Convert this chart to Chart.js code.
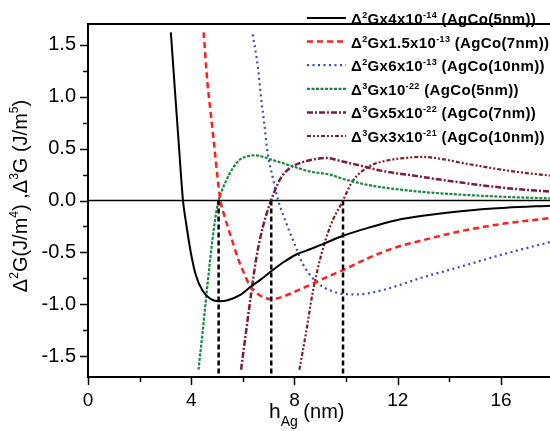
<!DOCTYPE html>
<html>
<head>
<meta charset="utf-8">
<script src="https://cdn.jsdelivr.net/npm/chart.js@4.4.1/dist/chart.umd.min.js"></script>
<style>
  html, body { margin: 0; padding: 0; background: #fff; }
  canvas { display: block; }
</style>
</head>
<body>
<canvas id="gibbsChart" width="550" height="431"></canvas>
<script>
// h_Ag thickness (nm) and scaled second derivative, AgCo(5nm)
const h2g5 = [3.21, 3.38, 3.53, 3.68, 3.79, 3.99, 4.18, 4.44, 4.76, 5.09, 5.41, 5.9, 6.25, 6.7, 7.16, 7.6, 8.07, 8.6, 9.1, 9.88, 10.9, 11.95, 13.2, 14.54, 16.2, 17.9];
const d2g5 = [1.62, 1.02, 0.50, 0.0, -0.20, -0.51, -0.72, -0.87, -0.95, -0.97, -0.96, -0.91, -0.84, -0.76, -0.67, -0.59, -0.52, -0.47, -0.42, -0.34, -0.26, -0.19, -0.14, -0.10, -0.07, -0.05];

// AgCo(7nm)
const h2g7 = [4.48, 4.63, 4.76, 4.89, 5.02, 5.13, 5.3, 5.54, 5.8, 6.06, 6.25, 6.64, 7.09, 7.5, 7.81, 8.45, 9.23, 9.88, 10.9, 11.95, 12.85, 14.54, 16.2, 17.9];
const d2g7 = [1.62, 1.13, 0.83, 0.53, 0.22, 0.0, -0.16, -0.35, -0.55, -0.71, -0.81, -0.91, -0.95, -0.93, -0.90, -0.83, -0.74, -0.67, -0.55, -0.45, -0.39, -0.29, -0.22, -0.17];

// AgCo(10nm)
const h2g10 = [6.38, 6.58, 6.71, 6.83, 6.96, 7.16, 7.37, 7.55, 7.81, 8.07, 8.32, 8.58, 8.97, 9.42, 9.88, 10.4, 11.3, 12.0, 12.85, 14.54, 16.2, 17.9];
const d2g10 = [1.60, 1.29, 0.98, 0.74, 0.46, 0.22, 0.0, -0.13, -0.30, -0.46, -0.61, -0.71, -0.81, -0.87, -0.90, -0.905, -0.87, -0.82, -0.75, -0.63, -0.51, -0.40];

// scaled third derivative
const h3g5 = [4.28, 4.44, 4.63, 4.83, 5.02, 5.15, 5.35, 5.61, 5.86, 6.25, 6.51, 7.03, 7.8, 8.58, 9.36, 10.0, 10.65, 11.3, 11.95, 12.85, 14.54, 16.2, 17.9];
const d3g5 = [-1.63, -1.27, -0.81, -0.36, -0.04, 0.07, 0.19, 0.31, 0.39, 0.43, 0.435, 0.40, 0.34, 0.28, 0.25, 0.20, 0.16, 0.13, 0.11, 0.085, 0.055, 0.035, 0.02];

const h3g7 = [5.93, 6.12, 6.32, 6.51, 6.77, 7.09, 7.22, 7.48, 7.81, 8.32, 8.84, 9.2, 9.8, 10.65, 11.3, 12.6, 14.54, 16.2, 17.9];
const d3g7 = [-1.63, -1.27, -0.90, -0.57, -0.26, 0.0, 0.085, 0.22, 0.31, 0.37, 0.40, 0.41, 0.38, 0.33, 0.29, 0.24, 0.17, 0.12, 0.085];

const h3g10 = [8.19, 8.45, 8.71, 9.04, 9.4, 9.88, 10.26, 10.91, 11.69, 12.3, 12.97, 13.7, 14.54, 16.48, 17.9];
const d3g10 = [-1.63, -1.27, -0.88, -0.52, -0.24, 0.0, 0.19, 0.33, 0.39, 0.41, 0.42, 0.40, 0.36, 0.28, 0.24];

// where the third derivative crosses zero
const markerH = [5.06, 7.1, 9.88];

// legend text, odd entries are superscripts
const legendLabels = [
  ["Δ", "2", "Gx4x10", "-14", " (AgCo(5nm))"],
  ["Δ", "2", "Gx1.5x10", "-13", " (AgCo(7nm))"],
  ["Δ", "2", "Gx6x10", "-13", " (AgCo(10nm))"],
  ["Δ", "3", "Gx10", "-22", " (AgCo(5nm))"],
  ["Δ", "3", "Gx5x10", "-22", " (AgCo(7nm))"],
  ["Δ", "3", "Gx3x10", "-21", " (AgCo(10nm))"]
];
const yTitle = ["Δ", "2", "G(J/m", "4", ") ,Δ", "3", "G (J/m", "5", ")"];

const xMin = 0, xMax = 17.9, yMin = -1.7, yMax = 1.7;

function pts(xs, ys) {
  return xs.map((x, i) => ({ x: x, y: ys[i] }));
}

function curve(label, xs, ys, color, width, dash) {
  return {
    label: label,
    data: pts(xs, ys),
    borderColor: color,
    borderWidth: width,
    borderDash: dash,
    showLine: true,
    pointRadius: 0,
    cubicInterpolationMode: 'monotone',
    fill: false
  };
}

const datasets = [
  curve('d2G 5nm', h2g5, d2g5, '#000000', 2, []),
  curve('d2G 7nm', h2g7, d2g7, '#ff1e1e', 2.5, [6, 4]),
  curve('d2G 10nm', h2g10, d2g10, '#3050b8', 2.2, [2, 3.5]),
  curve('d3G 5nm', h3g5, d3g5, '#17893a', 2.2, [3, 1.5]),
  curve('d3G 7nm', h3g7, d3g7, '#7b1b3e', 2.5, [6, 2, 2, 2]),
  curve('d3G 10nm', h3g10, d3g10, '#7c1f22', 2.2, [4, 2, 2, 2, 2, 2])
];

// zero line under everything
datasets.push({
  label: 'zero',
  data: [{ x: xMin, y: 0 }, { x: xMax, y: 0 }],
  borderColor: '#000', borderWidth: 1.5, showLine: true, pointRadius: 0, order: 1
});

// dashed drop lines on top
markerH.forEach(h => {
  datasets.push({
    label: 'mark',
    data: [{ x: h, y: 0 }, { x: h, y: yMin }],
    borderColor: '#000', borderWidth: 2.5, borderDash: [5, 3],
    showLine: true, pointRadius: 0, order: -1
  });
});

// draws text pieces, odd pieces raised (sup) or lowered (sub)
function richText(ctx, parts, x, y, size, weight, small, shift) {
  let cx = x;
  parts.forEach((p, i) => {
    const isSmall = i % 2 === 1;
    ctx.font = weight + ' ' + (isSmall ? small : size) + "px 'Liberation Sans', Arial, sans-serif";
    ctx.fillText(p, cx, isSmall ? y + shift : y);
    cx += ctx.measureText(p).width;
  });
  return cx - x;
}

function richWidth(ctx, parts, size, weight, small) {
  let w = 0;
  parts.forEach((p, i) => {
    ctx.font = weight + ' ' + (i % 2 === 1 ? small : size) + "px 'Liberation Sans', Arial, sans-serif";
    w += ctx.measureText(p).width;
  });
  return w;
}

const decorPlugin = {
  id: 'decor',
  afterDraw(chart) {
    const ctx = chart.ctx;
    const area = chart.chartArea;
    const xs = chart.scales.x, ys = chart.scales.y;
    ctx.save();
    ctx.strokeStyle = '#000';
    ctx.fillStyle = '#000';

    // top frame line
    ctx.lineWidth = 2;
    ctx.beginPath();
    ctx.moveTo(area.left - 1, area.top);
    ctx.lineTo(area.right, area.top);
    ctx.stroke();

    // outward ticks, longer on labelled values
    ctx.lineWidth = 1.5;
    xs.ticks.forEach(t => {
      const px = Math.round(xs.getPixelForValue(t.value)) + 0.5;
      const len = t.value % 4 === 0 ? 8 : 5;
      ctx.beginPath();
      ctx.moveTo(px, area.bottom);
      ctx.lineTo(px, area.bottom + len);
      ctx.stroke();
    });
    ys.ticks.forEach(t => {
      const py = Math.round(ys.getPixelForValue(t.value)) + 0.5;
      const major = Math.abs(t.value * 2 - Math.round(t.value * 2)) < 1e-6;
      ctx.beginPath();
      ctx.moveTo(area.left, py);
      ctx.lineTo(area.left - (major ? 8 : 5), py);
      ctx.stroke();
    });

    // axis titles
    ctx.textBaseline = 'alphabetic';
    ctx.textAlign = 'left';
    let cx = 269;
    ctx.font = "21px 'Liberation Sans', Arial, sans-serif";
    ctx.fillText('h', cx, 418);
    cx += ctx.measureText('h').width;
    ctx.font = "14px 'Liberation Sans', Arial, sans-serif";
    ctx.fillText('Ag', cx, 426);
    cx += ctx.measureText('Ag').width;
    ctx.font = "20px 'Liberation Sans', Arial, sans-serif";
    ctx.fillText(' (nm)', cx, 418);

    ctx.save();
    ctx.translate(27, 196);
    ctx.rotate(-Math.PI / 2);
    const tw = richWidth(ctx, yTitle, 20, 'normal', 12);
    richText(ctx, yTitle, -tw / 2, 0, 20, 'normal', 12, -9);
    ctx.restore();

    // legend
    ctx.letterSpacing = '0.35px';
    legendLabels.forEach((parts, i) => {
      const ds = chart.data.datasets[i];
      const ly = 18 + i * 23.6;
      ctx.save();
      ctx.strokeStyle = ds.borderColor;
      ctx.lineWidth = ds.borderWidth;
      ctx.setLineDash(ds.borderDash || []);
      ctx.beginPath();
      ctx.moveTo(307, ly);
      ctx.lineTo(346, ly);
      ctx.stroke();
      ctx.restore();
      richText(ctx, parts, 351, ly + 6, 15, 'bold', 9, -6);
    });
    ctx.restore();
  }
};

Chart.defaults.font.family = "'Liberation Sans', Arial, sans-serif";
Chart.defaults.color = '#000';

new Chart(document.getElementById('gibbsChart').getContext('2d'), {
  type: 'scatter',
  data: { datasets: datasets },
  options: {
    responsive: false,
    animation: false,
    layout: { padding: { top: 5, right: 0, bottom: 0, left: 0 } },
    plugins: { legend: { display: false }, tooltip: { enabled: false } },
    scales: {
      x: {
        type: 'linear', min: xMin, max: xMax,
        afterFit(scale) { scale.height = 54; },
        border: { display: true, color: '#000', width: 2 },
        grid: { display: true, drawOnChartArea: false, drawTicks: false },
        ticks: {
          stepSize: 2, includeBounds: false, autoSkip: false, maxRotation: 0,
          padding: 12, font: { size: 19 },
          callback: v => (v % 4 === 0 ? String(v) : '')
        }
      },
      y: {
        type: 'linear', min: yMin, max: yMax,
        afterFit(scale) { scale.width = 88; },
        border: { display: true, color: '#000', width: 2 },
        grid: { display: true, drawOnChartArea: false, drawTicks: false },
        ticks: {
          stepSize: 0.25, includeBounds: false, autoSkip: false,
          padding: 12, font: { size: 20 },
          callback: v => (Math.abs(v * 2 - Math.round(v * 2)) < 1e-6 ? v.toFixed(1) : '')
        }
      }
    }
  },
  plugins: [decorPlugin]
});
</script>
</body>
</html>
